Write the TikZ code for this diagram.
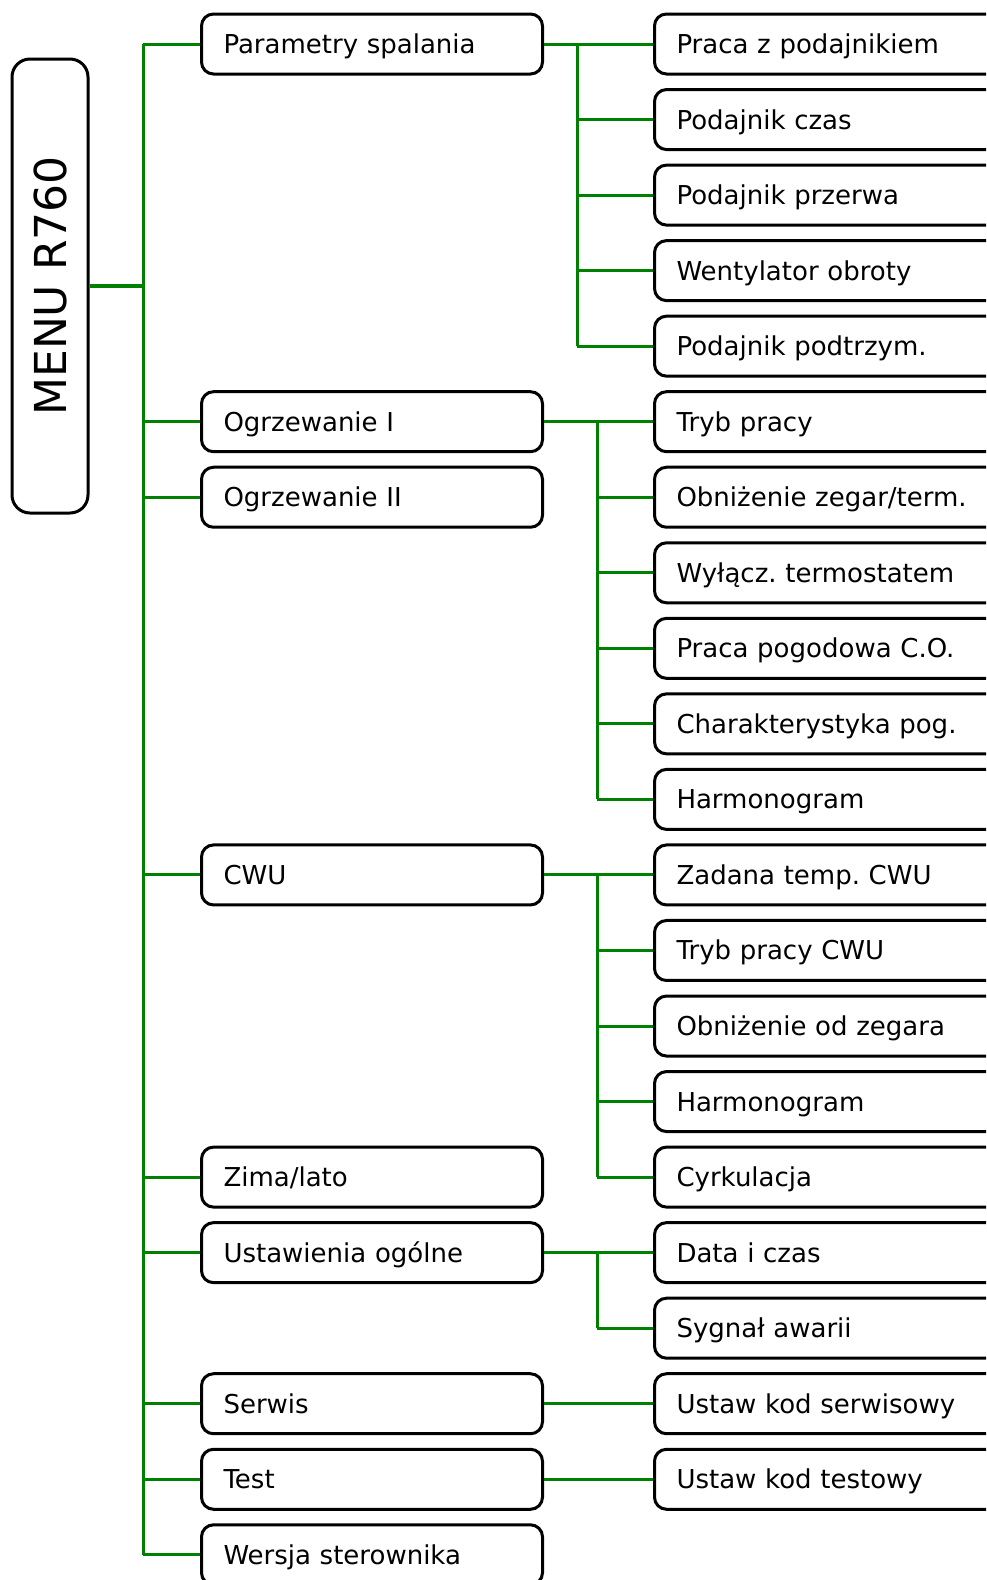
\documentclass[tikz,border=0pt]{standalone}
\usepackage{fontspec}
\setmainfont{DejaVu Sans}
\frenchspacing
\definecolor{linkgreen}{RGB}{0,128,0}
\tikzset{
  box/.style={draw, line width=1.5pt, rounded corners=6pt, minimum height=30pt,
    inner xsep=11pt, inner ysep=0pt, text height=9.5pt, text depth=0pt,
    align=left, anchor=west, font=\fontsize{13}{16}\selectfont},
  itembox/.style={box, text width=148.5pt},
  subbox/.style={box, text width=156.5pt},
  link/.style={draw=linkgreen, line width=1.5pt}
}

\begin{document}
\begin{tikzpicture}[x=0.5pt,y=-0.5pt]
\fill[white] (0,0) rectangle (986,1580);
\useasboundingbox (0,0) rectangle (986,1580);
\clip (0,0) rectangle (986,1580);

\node[draw, line width=1.5pt, rounded corners=9pt, rotate=90,
  minimum width=227pt, minimum height=38pt, inner sep=0pt,
  text height=16pt, text depth=0pt, font=\fontsize{22}{26}\selectfont]
  (menu) at (50,286) {MENU R760};

% first level
\foreach \name/\i/\txt in {param/0/Parametry spalania, ogrzI/5/Ogrzewanie I,
    ogrzII/6/Ogrzewanie II, cwu/11/CWU, zima/15/{Zima/lato},
    ustaw/16/Ustawienia ogólne, serwis/18/Serwis, test/19/Test,
    wersja/20/Wersja sterownika}
  \node[itembox] (\name) at (200,{44+75.54*\i}) {\txt};

% second level
\foreach \i/\txt in {0/Praca z podajnikiem, 1/Podajnik czas,
    2/Podajnik przerwa, 3/Wentylator obroty, 4/Podajnik podtrzym.,
    5/Tryb pracy, 6/{Obniżenie zegar/term.}, 7/Wyłącz. termostatem,
    8/Praca pogodowa C.O., 9/Charakterystyka pog., 10/Harmonogram,
    11/Zadana temp. CWU, 12/Tryb pracy CWU, 13/Obniżenie od zegara,
    14/Harmonogram, 15/Cyrkulacja, 16/Data i czas, 17/Sygnał awarii,
    18/Ustaw kod serwisowy, 19/Ustaw kod testowy}
  \node[subbox] (sub\i) at (653,{44+75.54*\i}) {\txt};

\coordinate (bus) at (143,0);
\coordinate (pbus) at (577,0);
\coordinate (obus) at (597,0);

\draw[link, line width=2pt] (menu.south) -- (menu.south -| bus);
\draw[link] (bus |- param.west) -- (bus |- wersja.west);
\foreach \name in {param,ogrzI,ogrzII,cwu,zima,ustaw,serwis,test,wersja}
  \draw[link] (bus |- \name.west) -- (\name.west);

\draw[link] (param.east) -- (sub0.west);
\draw[link] (pbus |- sub0.west) -- (pbus |- sub4.west);
\foreach \i in {1,...,4}
  \draw[link] (pbus |- sub\i.west) -- (sub\i.west);

\draw[link] (ogrzI.east) -- (sub5.west);
\draw[link] (obus |- sub5.west) -- (obus |- sub10.west);
\draw[link] (cwu.east) -- (sub11.west);
\draw[link] (obus |- sub11.west) -- (obus |- sub15.west);
\draw[link] (ustaw.east) -- (sub16.west);
\draw[link] (obus |- sub16.west) -- (obus |- sub17.west);
\foreach \i in {6,...,10,12,13,14,15,17}
  \draw[link] (obus |- sub\i.west) -- (sub\i.west);

\draw[link] (serwis.east) -- (sub18.west);
\draw[link] (test.east) -- (sub19.west);
\end{tikzpicture}
\end{document}
